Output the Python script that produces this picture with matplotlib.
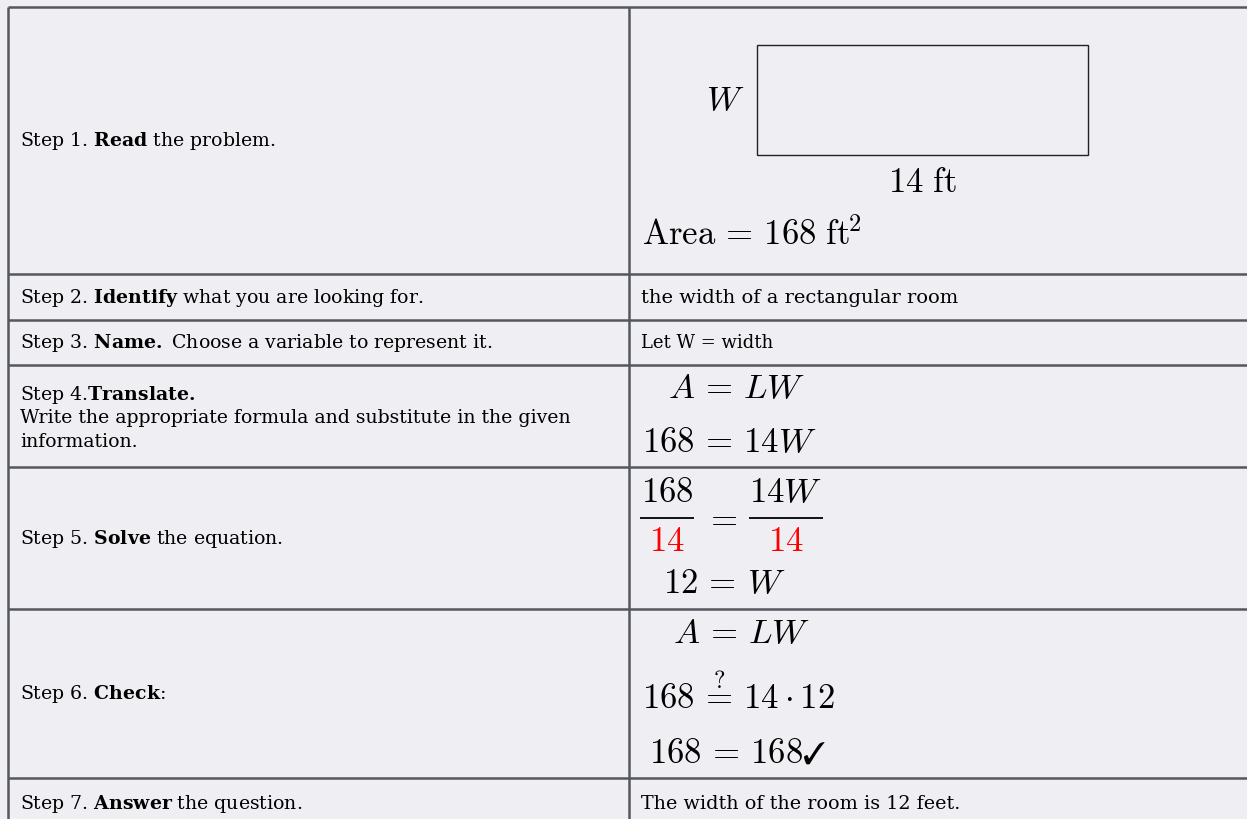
import matplotlib.pyplot as plt
from matplotlib.patches import Rectangle

# text of the table, left column
step_num = ['Step 1.', 'Step 2.', 'Step 3.', 'Step 4.', 'Step 5.', 'Step 6.', 'Step 7.']
step_bold = ['Read', 'Identify', 'Name.', 'Translate.', 'Solve', 'Check', 'Answer']
step_rest = ['the problem.', 'what you are looking for.', 'Choose a variable to represent it.',
             '', 'the equation.', ':', 'the question.']
step4_lines = ['Write the appropriate formula and substitute in the given', 'information.']

# right column
side_label = r'$W$'
length_label = r'$14\ \mathrm{ft}$'
area_label = r'$\mathrm{Area}\,=\,168\ \mathrm{ft}^{\!2}$'
looking_for = 'the width of a rectangular room'
variable = 'Let W = width'
translate_eqs = [r'$A\,=\,LW$', r'$168\,=\,14W$']
frac_num = [r'$168$', r'$14W$']
frac_den = [r'$14$', r'$14$']
solve_result = r'$12\,=\,W$'
check_eqs = [r'$A\,=\,LW$', r'$168\,\overset{?}{=}\,14\cdot 12$', r'$168\,=\,168$']
check_mark = r'$\checkmark$'
answer = 'The width of the room is 12 feet.'

# layout (pixels)
row_lines = [8, 275, 321, 366, 468, 610, 779, 830]
col_lines = [8, 629]
bg = '#eeeef3'
line_col = '#54585e'

plt.rcParams['font.family'] = 'DejaVu Serif'
plt.rcParams['mathtext.fontset'] = 'custom'
plt.rcParams['mathtext.rm'] = 'DejaVu Serif'
plt.rcParams['mathtext.bf'] = 'DejaVu Serif:bold'

fig = plt.figure(figsize=(12.47, 8.2), dpi=100, facecolor=bg)
ax = fig.add_axes([0, 0, 1, 1])
ax.set_xlim(0, 1247)
ax.set_ylim(820, 0)
ax.axis('off')

for y in row_lines:
    ax.plot([col_lines[0], 1260], [y, y], color=line_col, lw=1.8, solid_capstyle='butt')
for x in col_lines:
    ax.plot([x, x], [row_lines[0], row_lines[-1]], color=line_col, lw=1.8, solid_capstyle='butt')

body = 13.6
mid = [(row_lines[i] + row_lines[i + 1]) / 2 for i in range(7)]
mid[6] = 804

# left column
for i in range(7):
    if i == 3:
        ax.text(20, 395, step_num[i] + r'$\mathbf{' + step_bold[i] + '}$',
                fontsize=body, va='center', ha='left')
        ax.text(20, 418, step4_lines[0], fontsize=body, va='center', ha='left')
        ax.text(20, 442, step4_lines[1], fontsize=body, va='center', ha='left')
        continue
    s = step_num[i] + r' $\mathbf{' + step_bold[i] + '}$'
    if step_rest[i] == ':':
        s += ':'
    elif step_rest[i]:
        s += ' ' + step_rest[i]
    ax.text(20, mid[i], s, fontsize=body, va='center', ha='left')

# row 1 diagram
mfs = 25
ax.add_patch(Rectangle((757, 46), 331, 110, fill=False, ec='#222222', lw=1.0))
ax.text(725, 100, side_label, fontsize=mfs, math_fontfamily='cm', ha='center', va='center')
ax.text(922, 182, length_label, fontsize=mfs, math_fontfamily='cm', ha='center', va='center')
ax.text(642, 235, area_label, fontsize=mfs, math_fontfamily='cm', ha='left', va='center')

# rows 2, 3
ax.text(641, mid[1], looking_for, fontsize=body + 0.4, va='center', ha='left')
ax.text(641, mid[2], variable, fontsize=body - 0.6, va='center', ha='left')

# row 4
ax.text(668, 388, translate_eqs[0], fontsize=mfs, math_fontfamily='cm', va='center', ha='left')
ax.text(642, 442, translate_eqs[1], fontsize=mfs, math_fontfamily='cm', va='center', ha='left')

# row 5 fractions
bars = [(640, 694), (749, 823)]
for (x0, x1), n, d in zip(bars, frac_num, frac_den):
    xc = (x0 + x1) / 2
    ax.plot([x0, x1], [519, 519], color='black', lw=1.3, solid_capstyle='butt')
    ax.text(xc, 492, n, fontsize=mfs, math_fontfamily='cm', ha='center', va='center')
    ax.text(xc, 541, d, fontsize=mfs, math_fontfamily='cm', ha='center', va='center', color='red')
ax.text(721, 518, r'$=$', fontsize=mfs, math_fontfamily='cm', ha='center', va='center')
ax.text(663, 583, solve_result, fontsize=mfs, math_fontfamily='cm', va='center', ha='left')

# row 6
ax.text(673, 633, check_eqs[0], fontsize=mfs, math_fontfamily='cm', va='center', ha='left')
ax.text(642, 695, check_eqs[1], fontsize=mfs, math_fontfamily='cm', va='center', ha='left')
ax.text(649, 753, check_eqs[2], fontsize=mfs, math_fontfamily='cm', va='center', ha='left')
ax.text(802, 755, check_mark, fontsize=mfs - 3, math_fontfamily='stix', va='center', ha='left')

# row 7
ax.text(641, mid[6], answer, fontsize=body + 0.2, va='center', ha='left')

fig.savefig('out.png', dpi=100, facecolor=bg)
